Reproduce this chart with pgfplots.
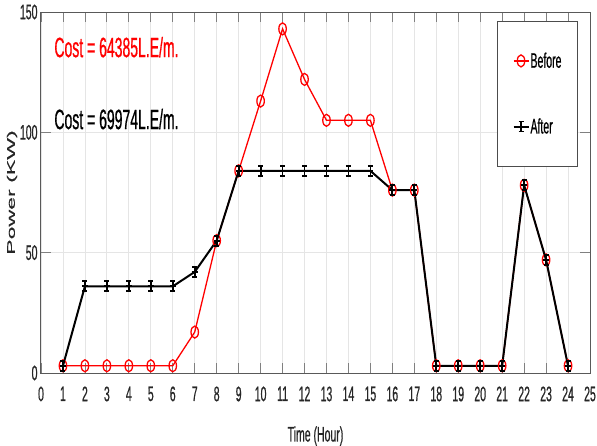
\documentclass[border=0pt]{standalone}
\usepackage{pgfplots}
\pgfplotsset{compat=1.18}
\usepackage{fontspec}
\setmainfont{Liberation Sans}
% condensed face for ticks, legend and notes; widened face for the rotated y label
\newfontfamily\narrowfont[FakeStretch=0.5, FakeBold=0.6]{Liberation Sans}
\newfontfamily\widefont[FakeStretch=2.1, FakeBold=0.6]{Liberation Sans}

% I-shaped marker: vertical stroke with short caps
\pgfdeclareplotmark{ibeam}{%
  \pgfpathmoveto{\pgfqpoint{0pt}{-\pgfplotmarksize}}%
  \pgfpathlineto{\pgfqpoint{0pt}{\pgfplotmarksize}}%
  \pgfpathmoveto{\pgfqpoint{-0.5\pgfplotmarksize}{\pgfplotmarksize}}%
  \pgfpathlineto{\pgfqpoint{0.5\pgfplotmarksize}{\pgfplotmarksize}}%
  \pgfpathmoveto{\pgfqpoint{-0.5\pgfplotmarksize}{-\pgfplotmarksize}}%
  \pgfpathlineto{\pgfqpoint{0.5\pgfplotmarksize}{-\pgfplotmarksize}}%
  \pgfpathmoveto{\pgfqpoint{-0.6\pgfplotmarksize}{0pt}}%
  \pgfpathlineto{\pgfqpoint{0.6\pgfplotmarksize}{0pt}}%
  \pgfusepathqstroke}

\pgfplotstableread{
hour before after
1   3    3
2   3    36
3   3    36
4   3    36
5   3    36
6   3    36
7   17   42
8   55   55
9   84   84
10  113  84
11  143  84
12  122  84
13  105  84
14  105  84
15  105  84
16  76   76
17  76   76
18  3    3
19  3    3
20  3    3
21  3    3
22  78   78
23  47   47
24  3    3
}\loadtable

\begin{document}
\begin{tikzpicture}
\begin{axis}[
  scale only axis,
  width=549pt, height=361pt,
  xmin=0, xmax=25, ymin=0, ymax=150,
  xtick={0,...,25}, ytick={0,50,100,150},
  tick align=inside, major tick length=10pt,
  xmajorgrids, ymajorgrids,
  grid style={black!10, line width=0.8pt},
  axis line style={black!65, line width=1pt},
  tick style={black!50, line width=0.8pt},
  /pgf/number format/assume math mode=true,
  ticklabel style={font=\narrowfont\fontsize{21}{21}\selectfont, text=black!85},
  xticklabel style={yshift=-10pt},
  xlabel={Time (Hour)},
  xlabel style={font=\narrowfont\fontsize{21}{21}\selectfont, text=black!85, yshift=-18pt},
  ylabel={Power (KW)},
  ylabel style={font=\widefont\fontsize{11}{11}\selectfont, text=black!85, yshift=-4pt},
  legend style={
    at={(axis cs:20.77,146.2)}, anchor=north west,
    draw=black!70, line width=0.8pt, fill=white,
    inner xsep=15pt, inner ysep=30pt, row sep=47pt,
    nodes={inner sep=1pt},
    font=\narrowfont\fontsize{21}{21}\selectfont,
  },
  legend cell align=left,
  legend image code/.code={%
    \draw[mark repeat=2, mark phase=2] plot coordinates {(0pt,0pt) (7.5pt,0pt) (15pt,0pt)};},
]
\addplot[red, line width=1.3pt, mark=o,
  mark size=6pt, mark options={xscale=0.62, line width=1.3pt}]
  table[x=hour, y=before] {\loadtable};
\addlegendentry{Before}
\addplot[black, line width=2pt, mark=ibeam,
  mark size=5pt, mark options={line width=1.8pt}]
  table[x=hour, y=after] {\loadtable};
\addlegendentry{After}

\node[anchor=west, text=red, font=\narrowfont\fontsize{28}{28}\selectfont]
  at (axis cs:0.45,135.4) {Cost = 64385L.E/m.};
\node[anchor=west, text=black, font=\narrowfont\fontsize{28}{28}\selectfont]
  at (axis cs:0.45,105.5) {Cost = 69974L.E/m.};
\end{axis}
\pgfresetboundingbox
\useasboundingbox (-41pt,-72pt) rectangle (556pt,373pt);
\end{tikzpicture}
\end{document}
